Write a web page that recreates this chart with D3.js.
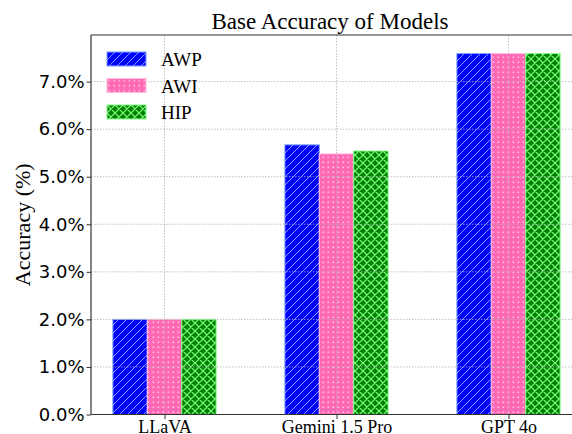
<!DOCTYPE html>
<html>
<head>
<meta charset="utf-8">
<script src="https://cdn.jsdelivr.net/npm/d3@7"></script>
<style>
  body { margin: 0; background: #fff; }
  svg { display: block; }
  .serif { font-family: "Liberation Serif", "Times New Roman", serif; }
  .ytick text { font-family: "DejaVu Sans", sans-serif; font-size: 18px; fill: #000; }
</style>
</head>
<body>
<svg id="main" width="572" height="434"></svg>
<script>
var models = ["LLaVA", "Gemini 1.5 Pro", "GPT 4o"];
var seriesNames = ["AWP", "AWI", "HIP"];
var awp = [2.0, 5.67, 7.59];
var awi = [2.0, 5.48, 7.59];
var hip = [2.0, 5.54, 7.59];
var yTicks = [0, 1, 2, 3, 4, 5, 6, 7];

var series = [awp, awi, hip];
var fills = ["#0000ff", "#ff69b4", "#008000"];
var hatchColors = ["#7f9fff", "#ffc0e0", "#80ff80"];
var patternIds = ["hatchAWP", "hatchAWI", "hatchHIP"];

var margin = {top: 35, left: 91},
    width = 491,
    height = 379.5;

var svg = d3.select("#main");
var defs = svg.append("defs");

// diagonal lines
var p0 = defs.append("pattern").attr("id", "hatchAWP")
    .attr("patternUnits", "userSpaceOnUse").attr("width", 8).attr("height", 8);
p0.append("rect").attr("width", 8).attr("height", 8).attr("fill", fills[0]);
p0.append("path").attr("d", "M0,8 L8,0 M-2,2 L2,-2 M6,10 L10,6")
    .attr("stroke", hatchColors[0]).attr("stroke-width", 1);

// dots
var p1 = defs.append("pattern").attr("id", "hatchAWI")
    .attr("patternUnits", "userSpaceOnUse").attr("width", 5).attr("height", 5);
p1.append("rect").attr("width", 5).attr("height", 5).attr("fill", fills[1]);
p1.append("rect").attr("x", 1.5).attr("y", 1.5).attr("width", 1.6).attr("height", 1.6)
    .attr("fill", hatchColors[1]);

// cross hatch
var p2 = defs.append("pattern").attr("id", "hatchHIP")
    .attr("patternUnits", "userSpaceOnUse").attr("width", 8).attr("height", 8);
p2.append("rect").attr("width", 8).attr("height", 8).attr("fill", fills[2]);
p2.append("path").attr("d", "M0,8 L8,0 M-2,2 L2,-2 M6,10 L10,6 M0,0 L8,8 M-2,6 L2,10 M6,-2 L10,2")
    .attr("stroke", hatchColors[2]).attr("stroke-width", 1.2);

var xScale = d3.scaleLinear().domain([-0.4273, 2.4273]).range([0, 491]),
    yScale = d3.scaleLinear().domain([0, 7.98]).range([height, 0]);

var g = svg.append("g")
    .attr("transform", "translate(" + margin.left + "," + margin.top + ")");

var barW = 0.2;
series.forEach(function(vals, s) {
    g.selectAll(".bar" + s)
        .data(vals)
        .enter().append("rect")
        .attr("x", function(d, i) { return xScale(i + (s - 1) * barW - barW / 2); })
        .attr("width", xScale(barW) - xScale(0))
        .attr("y", function(d) { return yScale(d); })
        .attr("height", function(d) { return height - yScale(d); })
        .attr("fill", "url(#" + patternIds[s] + ")")
        .attr("stroke", hatchColors[s])
        .attr("stroke-width", 1);
});

// grid on top
g.selectAll(".hgrid").data(yTicks).enter().append("line")
    .attr("x1", 0).attr("x2", 491)
    .attr("y1", function(d) { return yScale(d); })
    .attr("y2", function(d) { return yScale(d); })
    .attr("stroke", "#b0b0b0").attr("stroke-width", 0.8)
    .attr("stroke-dasharray", "1.5,1.5");
g.selectAll(".vgrid").data(models).enter().append("line")
    .attr("x1", function(d, i) { return xScale(i); })
    .attr("x2", function(d, i) { return xScale(i); })
    .attr("y1", 0).attr("y2", height)
    .attr("stroke", "#b0b0b0").attr("stroke-width", 0.8)
    .attr("stroke-dasharray", "1.5,1.5");

// axes
var yAxis = g.append("g")
    .attr("class", "ytick")
    .call(d3.axisLeft(yScale).tickValues(yTicks).tickSize(4.5).tickPadding(2)
        .tickFormat(function(d) { return d.toFixed(1) + "%"; }));
yAxis.select(".domain").remove();
yAxis.selectAll("line").attr("stroke", "#333");

var xAxis = g.append("g")
    .attr("transform", "translate(0," + height + ")")
    .call(d3.axisBottom(xScale).tickValues([0, 1, 2]).tickSize(4.5).tickPadding(1)
        .tickFormat(function(d) { return models[d]; }));
xAxis.select(".domain").remove();
xAxis.selectAll("line").attr("stroke", "#333");
xAxis.selectAll("text").attr("class", "serif").style("font-size", "18px").attr("fill", "#000");

// spines
g.append("line").attr("x1", 0).attr("x2", 0).attr("y1", 0).attr("y2", height)
    .attr("stroke", "#333").attr("stroke-width", 1.2);
g.append("line").attr("x1", 0).attr("x2", 491).attr("y1", height).attr("y2", height)
    .attr("stroke", "#333").attr("stroke-width", 1.2);
g.append("line").attr("x1", 0).attr("x2", 491).attr("y1", 0).attr("y2", 0)
    .attr("stroke", "#333").attr("stroke-width", 1.2);

// title and label
svg.append("text").attr("class", "serif")
    .attr("x", 330).attr("y", 29)
    .attr("text-anchor", "middle")
    .style("font-size", "23px")
    .text("Base Accuracy of Models");

svg.append("text").attr("class", "serif")
    .attr("transform", "translate(30," + (margin.top + height / 2) + ") rotate(-90)")
    .attr("text-anchor", "middle")
    .style("font-size", "22px")
    .text("Accuracy (%)");

// legend
var legend = svg.append("g").attr("transform", "translate(107,52)");
seriesNames.forEach(function(name, s) {
    var row = legend.append("g").attr("transform", "translate(0," + (s * 26.5) + ")");
    row.append("rect").attr("width", 39).attr("height", 14)
        .attr("fill", "url(#" + patternIds[s] + ")")
        .attr("stroke", hatchColors[s]).attr("stroke-width", 1);
    row.append("text").attr("class", "serif")
        .attr("x", 54).attr("y", 14)
        .style("font-size", "19px")
        .text(name);
});
</script>
</body>
</html>
